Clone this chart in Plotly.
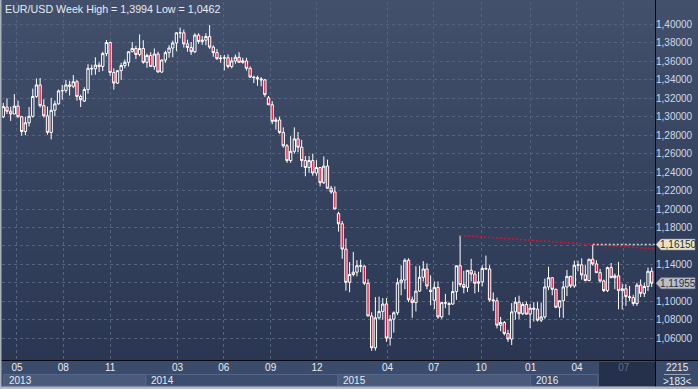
import plotly.graph_objects as go
import pandas as pd

# ---------------- data (EUR/USD weekly candles) ----------------
first_week = "2013-04-08"
n_weeks = 177

opens = [
    1.3000, 1.3105, 1.3060, 1.3030, 1.3115, 1.3000, 1.2840, 1.2935, 1.3005, 1.3220,
    1.3345, 1.3120, 1.3010, 1.2830, 1.3070, 1.3140, 1.3280, 1.3285, 1.3345, 1.3330,
    1.3380, 1.3220, 1.3170, 1.3295, 1.3525, 1.3520, 1.3560, 1.3545, 1.3685, 1.3805,
    1.3480, 1.3365, 1.3500, 1.3555, 1.3590, 1.3705, 1.3740, 1.3675, 1.3740,
    1.3590, 1.3665, 1.3545, 1.3680, 1.3485, 1.3615, 1.3695, 1.3745, 1.3800, 1.3910,
    1.3910, 1.3790, 1.3750, 1.3705, 1.3885, 1.3815, 1.3830, 1.3870, 1.3755, 1.3695,
    1.3630, 1.3635, 1.3640, 1.3545, 1.3605, 1.3645, 1.3590, 1.3605, 1.3525, 1.3430,
    1.3425, 1.3410, 1.3400, 1.3205, 1.3130, 1.2950, 1.2965, 1.2830, 1.2685, 1.2525,
    1.2625, 1.2760, 1.2670, 1.2525, 1.2450, 1.2525, 1.2390, 1.2450, 1.2285, 1.2465,
    1.2225, 1.2185,
    1.1950, 1.1840, 1.1565, 1.1205, 1.1290, 1.1315, 1.1385, 1.1380, 1.1195, 1.0840,
    1.0495, 1.0820, 1.0890, 1.0970, 1.0600, 1.0805, 1.0875, 1.1200, 1.1230, 1.1445,
    1.1015, 1.0985, 1.1110, 1.1260, 1.1350, 1.1120, 1.1010, 1.1150, 1.0830, 1.0985,
    1.0975, 1.0970, 1.1105, 1.1385, 1.1180, 1.1150, 1.1335, 1.1295, 1.1195, 1.1210,
    1.1355, 1.1350, 1.1015, 1.1005, 1.0740, 1.0770, 1.0650, 1.0590, 1.0885, 1.0990,
    1.0865, 1.0965,
    1.0860, 1.0925, 1.0915, 1.0795, 1.0830, 1.1155, 1.1255, 1.1130, 1.0935, 1.1005,
    1.1155, 1.1270, 1.1165, 1.1390, 1.1395, 1.1285, 1.1225, 1.1455, 1.1405, 1.1310,
    1.1220, 1.1115, 1.1365, 1.1255, 1.1275, 1.1115, 1.1135, 1.1050, 1.1040, 1.0975,
    1.1175, 1.1085, 1.1160, 1.1325,
]
highs = [
    1.3150, 1.3200, 1.3110, 1.3245, 1.3175, 1.3010, 1.3000, 1.3105, 1.3305, 1.3415,
    1.3420, 1.3190, 1.3110, 1.3205, 1.3175, 1.3295, 1.3345, 1.3400, 1.3390, 1.3452,
    1.3400, 1.3240, 1.3320, 1.3570, 1.3565, 1.3645, 1.3590, 1.3705, 1.3832, 1.3815,
    1.3525, 1.3500, 1.3585, 1.3620, 1.3710, 1.3810, 1.3770, 1.3893, 1.3830,
    1.3685, 1.3700, 1.3740, 1.3705, 1.3620, 1.3715, 1.3775, 1.3825, 1.3915, 1.3967,
    1.3945, 1.3835, 1.3810, 1.3905, 1.3905, 1.3875, 1.3905, 1.3994, 1.3775, 1.3735,
    1.3670, 1.3670, 1.3675, 1.3645, 1.3675, 1.3700, 1.3640, 1.3640, 1.3545, 1.3445,
    1.3445, 1.3430, 1.3410, 1.3225, 1.3170, 1.2995, 1.3000, 1.2885, 1.2705, 1.2790,
    1.2885, 1.2835, 1.2750, 1.2575, 1.2575, 1.2600, 1.2530, 1.2455, 1.2570, 1.2535,
    1.2250, 1.2245,
    1.1970, 1.1870, 1.1680, 1.1425, 1.1535, 1.1445, 1.1450, 1.1390, 1.1240, 1.0880,
    1.1045, 1.1050, 1.1035, 1.1035, 1.0850, 1.0890, 1.1250, 1.1390, 1.1465, 1.1465,
    1.1050, 1.1380, 1.1385, 1.1435, 1.1410, 1.1280, 1.1215, 1.1215, 1.0990, 1.1080,
    1.0990, 1.1215, 1.1385, 1.1714, 1.1330, 1.1335, 1.1460, 1.1330, 1.1320, 1.1390,
    1.1495, 1.1390, 1.1095, 1.1040, 1.0830, 1.0785, 1.0690, 1.0980, 1.1045, 1.1060,
    1.0990, 1.0995,
    1.0970, 1.0990, 1.0990, 1.0985, 1.1245, 1.1375, 1.1260, 1.1135, 1.1010, 1.1220,
    1.1340, 1.1275, 1.1440, 1.1440, 1.1465, 1.1390, 1.1460, 1.1615, 1.1445, 1.1350,
    1.1235, 1.1375, 1.1415, 1.1300, 1.1427, 1.1190, 1.1185, 1.1165, 1.1070, 1.1200,
    1.1235, 1.1200, 1.1365, 1.1366,
]
lows = [
    1.2985, 1.3030, 1.2955, 1.3025, 1.2990, 1.2795, 1.2800, 1.2895, 1.2990, 1.3205,
    1.3100, 1.2990, 1.2805, 1.2755, 1.3005, 1.3130, 1.3185, 1.3260, 1.3230, 1.3310,
    1.3175, 1.3105, 1.3160, 1.3250, 1.3450, 1.3455, 1.3485, 1.3495, 1.3655, 1.3445,
    1.3295, 1.3355, 1.3400, 1.3525, 1.3545, 1.3700, 1.3625, 1.3655, 1.3575,
    1.3530, 1.3540, 1.3510, 1.3480, 1.3475, 1.3585, 1.3640, 1.3645, 1.3710, 1.3850,
    1.3750, 1.3705, 1.3670, 1.3690, 1.3790, 1.3780, 1.3775, 1.3735, 1.3650, 1.3615,
    1.3585, 1.3503, 1.3525, 1.3525, 1.3575, 1.3585, 1.3575, 1.3500, 1.3420, 1.3365,
    1.3335, 1.3330, 1.3215, 1.3130, 1.2920, 1.2860, 1.2815, 1.2665, 1.2500, 1.2500,
    1.2600, 1.2615, 1.2455, 1.2355, 1.2395, 1.2360, 1.2360, 1.2245, 1.2270, 1.2220,
    1.2165, 1.2000,
    1.1755, 1.1460, 1.1115, 1.1098, 1.1270, 1.1270, 1.1315, 1.1175, 1.0840, 1.0462,
    1.0465, 1.0800, 1.0800, 1.0560, 1.0520, 1.0660, 1.0850, 1.1065, 1.1130, 1.0990,
    1.0820, 1.0890, 1.1100, 1.1215, 1.1130, 1.0955, 1.0915, 1.0810, 1.0810, 1.0925,
    1.0850, 1.0960, 1.1015, 1.1155, 1.1085, 1.1100, 1.1215, 1.1085, 1.1100, 1.1160,
    1.1345, 1.0995, 1.0895, 1.0705, 1.0675, 1.0630, 1.0560, 1.0525, 1.0800, 1.0805,
    1.0850, 1.0855,
    1.0710, 1.0780, 1.0780, 1.0775, 1.0810, 1.1120, 1.1065, 1.0925, 1.0825, 1.0820,
    1.1055, 1.1145, 1.1145, 1.1325, 1.1235, 1.1215, 1.1215, 1.1385, 1.1310, 1.1200,
    1.1100, 1.1100, 1.1255, 1.1130, 1.0912, 1.0910, 1.0950, 1.1000, 1.0950, 1.0950,
    1.1045, 1.1045, 1.1110, 1.1155,
]
closes = [
    1.3110, 1.3060, 1.3030, 1.3115, 1.3000, 1.2840, 1.2935, 1.3005, 1.3220, 1.3345,
    1.3120, 1.3010, 1.2830, 1.3070, 1.3140, 1.3280, 1.3285, 1.3345, 1.3330, 1.3380,
    1.3220, 1.3185, 1.3295, 1.3525, 1.3520, 1.3560, 1.3545, 1.3685, 1.3805, 1.3480,
    1.3365, 1.3500, 1.3555, 1.3590, 1.3705, 1.3740, 1.3675, 1.3740, 1.3590,
    1.3665, 1.3545, 1.3680, 1.3485, 1.3615, 1.3695, 1.3745, 1.3800, 1.3910, 1.3910,
    1.3790, 1.3750, 1.3705, 1.3885, 1.3815, 1.3830, 1.3870, 1.3755, 1.3695, 1.3630,
    1.3635, 1.3640, 1.3545, 1.3605, 1.3645, 1.3590, 1.3605, 1.3525, 1.3430, 1.3425,
    1.3410, 1.3400, 1.3240, 1.3130, 1.2950, 1.2965, 1.2830, 1.2685, 1.2525, 1.2625,
    1.2760, 1.2670, 1.2525, 1.2450, 1.2525, 1.2390, 1.2450, 1.2285, 1.2465, 1.2225,
    1.2185, 1.2000,
    1.1840, 1.1565, 1.1205, 1.1290, 1.1315, 1.1385, 1.1380, 1.1195, 1.0840, 1.0495,
    1.0820, 1.0890, 1.0970, 1.0600, 1.0805, 1.0875, 1.1200, 1.1230, 1.1445, 1.1015,
    1.0985, 1.1110, 1.1260, 1.1350, 1.1165, 1.1105, 1.1150, 1.0830, 1.0985, 1.0980,
    1.0965, 1.1105, 1.1385, 1.1180, 1.1150, 1.1335, 1.1295, 1.1195, 1.1210, 1.1355,
    1.1350, 1.1015, 1.1005, 1.0740, 1.0770, 1.0650, 1.0590, 1.0885, 1.0990, 1.0865,
    1.0965, 1.0860,
    1.0925, 1.0915, 1.0795, 1.0830, 1.1155, 1.1255, 1.1130, 1.0935, 1.1005, 1.1155,
    1.1270, 1.1165, 1.1390, 1.1395, 1.1285, 1.1225, 1.1455, 1.1405, 1.1310, 1.1220,
    1.1115, 1.1365, 1.1255, 1.1275, 1.1115, 1.1135, 1.1050, 1.1040, 1.0975, 1.1175,
    1.1085, 1.1160, 1.1325, 1.11955,
]

month_tick_dates = ["2013-05-04", "2013-07-31", "2013-10-28", "2014-03-05", "2014-06-01",
                    "2014-08-29", "2014-11-25", "2015-04-08", "2015-07-05", "2015-10-03",
                    "2016-01-05", "2016-04-02", "2016-06-30"]
month_tick_text = ["05", "08", "11", "03", "06", "09", "12", "04", "07", "10", "01", "04",
                   '<span style="color:#5f6f8f">07</span>']
year_labels = ["2013", "2014", "2015", "2016"]
year_edges = ["2013-04-09", "2014-01-04", "2015-01-04", "2016-01-05", "2016-05-12"]
price_ticks = [1.06, 1.08, 1.10, 1.12, 1.14, 1.16, 1.18, 1.20, 1.22, 1.24, 1.26, 1.28,
               1.30, 1.32, 1.34, 1.36, 1.38, 1.40]
hidden_ticks = [1.12, 1.16]
corner_top = "2215"
corner_bottom = ">183<"

# ---------------- geometry helpers ----------------
W, H = 698, 389
L_PX, R_PX, T_PX, B_PX = 2, 655, 2, 360
x_range = ["2013-04-05 13:00", "2016-08-28 07:00"]
y_range = [1.0363, 1.4244]


def PX(px):
    return (px - L_PX) / (R_PX - L_PX)


def PY(py):
    return (B_PX - py) / (B_PX - T_PX)


week_dates = pd.date_range(first_week, periods=n_weeks, freq="7D")


def fmt(v, d):
    return f"{v:.{d}f}".replace(".", ",")


fig = go.Figure()
fig.add_trace(go.Candlestick(
    x=week_dates, open=opens, high=highs, low=lows, close=closes,
    increasing=dict(line=dict(color="#ffffff", width=1), fillcolor="#34415d"),
    decreasing=dict(line=dict(color="#ffffff", width=1), fillcolor="#e2163c"),
    whiskerwidth=0, showlegend=False, hoverinfo="x+y",
))

shapes = []
# background gradient
top = (66, 80, 108)
bot = (43, 55, 82)
nb = 40
for k in range(nb):
    t = k / (nb - 1)
    c = tuple(round(top[j] + (bot[j] - top[j]) * t) for j in range(3))
    y0 = 0 + (B_PX) * k / nb
    y1 = 0 + (B_PX) * (k + 1) / nb + 0.5
    shapes.append(dict(type="rect", xref="paper", yref="paper", layer="below",
                       x0=PX(-5), x1=PX(705), y0=PY(y1), y1=PY(y0 - (2 if k == 0 else 0)),
                       line=dict(width=0), fillcolor=f"rgb{c}"))
# bottom band
shapes.append(dict(type="rect", xref="paper", yref="paper", layer="below",
                   x0=PX(-5), x1=PX(705), y0=PY(392), y1=PY(B_PX),
                   line=dict(width=0), fillcolor="#3b4b6b"))
# year boxes
for k in range(len(year_labels)):
    fill = "#4a5a7a" if k % 2 == 0 else "#3d4d6d"
    shapes.append(dict(type="rect", xref="x", yref="paper", layer="below",
                       x0=year_edges[k], x1=year_edges[k + 1], y0=PY(386), y1=PY(374.5),
                       line=dict(width=1, color="#56668a"), fillcolor=fill))
# dark current-range box
shapes.append(dict(type="rect", xref="paper", yref="paper", layer="below",
                   x0=PX(599), x1=PX(655), y0=PY(386), y1=PY(362),
                   line=dict(width=0), fillcolor="#25304a"))
# separators
shapes.append(dict(type="line", xref="paper", yref="paper", layer="above",
                   x0=PX(-5), x1=PX(705), y0=PY(B_PX + 0.5), y1=PY(B_PX + 0.5),
                   line=dict(width=1, color="#05080f")))
shapes.append(dict(type="line", xref="paper", yref="paper", layer="above",
                   x0=PX(R_PX + 0.5), x1=PX(R_PX + 0.5), y0=PY(392), y1=PY(-3),
                   line=dict(width=1, color="#05080f")))
# corner separator
shapes.append(dict(type="line", xref="paper", yref="paper", layer="above",
                   x0=PX(664), x1=PX(690), y0=PY(374.5), y1=PY(374.5),
                   line=dict(width=1, color="#9aa6bc")))
# outer frame (left, bottom)
shapes.append(dict(type="rect", xref="paper", yref="paper", layer="above",
                   x0=PX(-5), x1=PX(1.5), y0=PY(392), y1=PY(-3),
                   line=dict(width=0), fillcolor="#a9b1bd"))
shapes.append(dict(type="rect", xref="paper", yref="paper", layer="above",
                   x0=PX(-5), x1=PX(705), y0=PY(392), y1=PY(386.5),
                   line=dict(width=0), fillcolor="#b1b8c4"))

# trend line through the two reaction highs, extended to the right edge
i_a, i_b = 124, 160
xa, xb = week_dates[i_a], week_dates[i_b]
ya, yb = highs[i_a], highs[i_b]
x_end = pd.Timestamp(x_range[1])
slope = (yb - ya) / (xb - xa).total_seconds()
y_end = ya + slope * (x_end - xa).total_seconds()
shapes.append(dict(type="line", xref="x", yref="y", layer="above",
                   x0=xa, y0=ya, x1=x_end, y1=y_end,
                   line=dict(color="#e0102c", width=1.5, dash="2px,2px")))
# horizontal level line at the last reaction high
shapes.append(dict(type="line", xref="x", yref="y", layer="above",
                   x0=xb, y0=yb, x1=x_end, y1=yb,
                   line=dict(color="#c9cdd4", width=1.5, dash="2px,2px")))

# price tags on the axis
unit = (y_range[1] - y_range[0]) / (B_PX - T_PX)  # value per pixel
annotations = []
for val, fill in [(yb, "#e8e4c6"), (closes[-1], "#b9bec8")]:
    h = 5.5 * unit
    path = (f"M {PX(656)},{val} L {PX(661)},{val + h} L {PX(695)},{val + h} "
            f"L {PX(695)},{val - h} L {PX(661)},{val - h} Z")
    shapes.append(dict(type="path", xref="paper", yref="y", layer="above", path=path,
                       fillcolor=fill, line=dict(color="#8a8f99", width=0.5)))
    annotations.append(dict(xref="paper", yref="y", x=PX(678), y=val,
                            text=fmt(val, 5), showarrow=False, xanchor="center",
                            yanchor="middle", font=dict(size=10, color="#2a2f3a")))

# title
annotations.append(dict(xref="paper", yref="paper", x=PX(3), y=PY(8.5),
                        xanchor="left", yanchor="middle", showarrow=False,
                        text=f"EUR/USD Week High = {fmt(max(highs), 4)} Low = {fmt(min(lows), 4)}",
                        font=dict(size=10.7, color="#e6ebf3")))
# year labels
for k, lab in enumerate(year_labels):
    annotations.append(dict(xref="x", yref="paper", x=year_edges[k], y=PY(380.5),
                            xanchor="left", yanchor="middle", showarrow=False, xshift=3,
                            text=lab, font=dict(size=10, color="#e6ebf3")))
# corner texts
annotations.append(dict(xref="paper", yref="paper", x=PX(677), y=PY(367.5),
                        xanchor="center", yanchor="middle",
                        showarrow=False, text=corner_top, font=dict(size=10, color="#e6ebf3")))
annotations.append(dict(xref="paper", yref="paper", x=PX(677), y=PY(381.5),
                        xanchor="center", yanchor="middle",
                        showarrow=False, text=corner_bottom.replace("<", "&lt;").replace(">", "&gt;"),
                        font=dict(size=10, color="#e6ebf3")))

y_text = ["" if any(abs(v - h) < 1e-9 for h in hidden_ticks) else fmt(v, 5) for v in price_ticks]

fig.update_layout(
    template="none",
    width=W, height=H,
    margin=dict(l=L_PX, r=W - R_PX, t=T_PX, b=H - B_PX, pad=0),
    paper_bgcolor="#35425f",
    plot_bgcolor="rgba(0,0,0,0)",
    font=dict(family="Liberation Sans, Arial, sans-serif", size=10, color="#e6ebf3"),
    showlegend=False,
    boxgap=0.2, boxgroupgap=0.2,
    shapes=shapes,
    annotations=annotations,
    xaxis=dict(type="date", range=x_range, rangeslider=dict(visible=False),
               tickmode="array", tickvals=month_tick_dates, ticktext=month_tick_text,
               showgrid=True, gridcolor="#54637f", gridwidth=1, griddash="3px,3px",
               ticks="", showline=False, zeroline=False, automargin=False,
               tickfont=dict(size=10, color="#e6ebf3")),
    yaxis=dict(side="right", range=y_range, tickmode="array", tickvals=price_ticks,
               ticktext=y_text, showgrid=True, gridcolor="#54637f", gridwidth=1,
               griddash="3px,3px", ticks="", showline=False, zeroline=False,
               automargin=False, tickfont=dict(size=10, color="#cfd9ea")),
)

fig.write_html("out.html", config={"displayModeBar": False},
               post_script="document.body.style.margin='0px';document.body.style.padding='0px';document.body.style.overflow='hidden';")
